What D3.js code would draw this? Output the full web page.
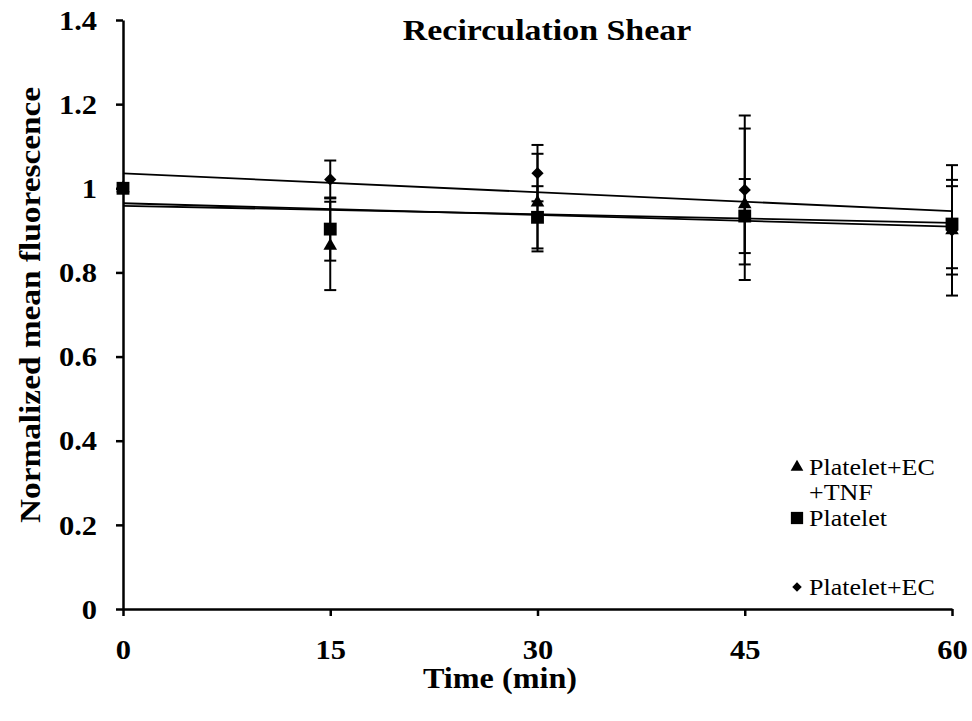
<!DOCTYPE html>
<html lang="en">
<head>
<meta charset="utf-8">
<title>Recirculation Shear</title>
<script src="https://cdn.jsdelivr.net/npm/d3@7"></script>
<style>
  body { margin: 0; background: #fff; }
  text { font-family: "Liberation Serif", "Times New Roman", serif; fill: #000; }
</style>
</head>
<body>
<div id="chart"></div>
<script>
// data
var times = [0, 15, 30, 45, 60];
var xTicks = [0, 15, 30, 45, 60];
var yTicks = [0, 0.2, 0.4, 0.6, 0.8, 1, 1.2, 1.4];

var tnfMean = [1, 0.863, 0.966, 0.962, 0.900];
var tnfErr = [0, 0.105, 0.116, 0.18, 0.105];
var plateletMean = [1, 0.903, 0.931, 0.934, 0.915];
var plateletErr = [0, 0.075, 0.074, 0.088, 0.105];
var ecMean = [1, 1.021, 1.036, 0.996, 0.900];
var ecErr = [0, 0.045, 0.067, 0.177, 0.155];

var seriesNames = ["Platelet+EC +TNF", "Platelet", "Platelet+EC"];

var W = 972, H = 721;
var sx = 1.13; // text in the original is drawn a bit wide

var svg = d3.select("#chart").append("svg")
    .attr("width", W)
    .attr("height", H);

var x = d3.scaleLinear().domain([0, 60]).range([123, 952]);
var y = d3.scaleLinear().domain([0, 1.4]).range([609, 20]);

function stretchedText(px, py, str, size, weight, anchor, rot) {
    return svg.append("g")
        .attr("transform", "translate(" + px + "," + py + ") rotate(" + (rot || 0) + ") scale(" + sx + ",1)")
        .append("text")
        .attr("text-anchor", anchor || "start")
        .style("font-size", size + "px")
        .style("font-weight", weight || "normal")
        .text(str);
}

// axes
var yAxis = svg.append("g")
    .attr("transform", "translate(" + x(0) + ",0)")
    .call(d3.axisLeft(y).tickValues(yTicks).tickSize(7).tickSizeOuter(0)
        .tickFormat(function(d) { return d3.format("~g")(d); }));
yAxis.selectAll("text")
    .attr("x", -26 / sx)
    .attr("dy", "0.34em")
    .attr("transform", "scale(" + sx + ",1)")
    .style("font-size", "27px")
    .style("font-weight", "bold")
    .style("font-family", "Liberation Serif, serif");

var xAxis = svg.append("g")
    .attr("transform", "translate(0," + y(0) + ")")
    .call(d3.axisBottom(x).tickValues(xTicks).tickSize(7).tickSizeOuter(0));
xAxis.selectAll("text")
    .attr("y", 50)
    .attr("dy", 0)
    .attr("transform", "scale(" + sx + ",1)")
    .style("font-size", "27px")
    .style("font-weight", "bold")
    .style("font-family", "Liberation Serif, serif");

svg.selectAll(".domain, .tick line")
    .attr("stroke", "#000")
    .attr("stroke-width", 2.5);

// titles
stretchedText(547, 40, "Recirculation Shear", 30, "bold", "middle");
stretchedText(500, 688, "Time (min)", 28.5, "bold", "middle");
stretchedText(40, 305, "Normalized mean fluorescence", 29.5, "bold", "middle", -90);

// series
var diamond = {
    draw: function(ctx, size) {
        var r = Math.sqrt(size / 2);
        ctx.moveTo(0, -r); ctx.lineTo(r, 0); ctx.lineTo(0, r); ctx.lineTo(-r, 0); ctx.closePath();
    }
};
var series = [
    { name: seriesNames[0], mean: tnfMean, err: tnfErr, sym: d3.symbolTriangle, size: 80 },
    { name: seriesNames[1], mean: plateletMean, err: plateletErr, sym: d3.symbolSquare, size: 165 },
    { name: seriesNames[2], mean: ecMean, err: ecErr, sym: diamond, size: 75 }
];

// linear trend lines (least squares)
function fit(xs, ys) {
    var mx = d3.mean(xs), my = d3.mean(ys);
    var num = d3.sum(xs, function(v, i) { return (v - mx) * (ys[i] - my); });
    var den = d3.sum(xs, function(v) { return (v - mx) * (v - mx); });
    var b = num / den;
    return { a: my - b * mx, b: b };
}

var plot = svg.append("g");

series.forEach(function(s) {
    var pts = times.map(function(t, i) { return { t: t, v: s.mean[i], e: s.err[i] }; });
    var bars = plot.append("g");
    pts.filter(function(p) { return p.e > 0; }).forEach(function(p) {
        bars.append("line")
            .attr("x1", x(p.t)).attr("x2", x(p.t))
            .attr("y1", y(p.v - p.e)).attr("y2", y(p.v + p.e))
            .attr("stroke", "#000").attr("stroke-width", 2);
        [p.v - p.e, p.v + p.e].forEach(function(c) {
            bars.append("line")
                .attr("x1", x(p.t) - 6).attr("x2", x(p.t) + 6)
                .attr("y1", y(c)).attr("y2", y(c))
                .attr("stroke", "#000").attr("stroke-width", 2);
        });
    });
});

series.forEach(function(s) {
    var f = fit(times, s.mean);
    plot.append("line")
        .attr("x1", x(0)).attr("y1", y(f.a))
        .attr("x2", x(60)).attr("y2", y(f.a + f.b * 60))
        .attr("stroke", "#000").attr("stroke-width", 1.8);
});

series.slice().reverse().forEach(function(s) {
    plot.selectAll(null)
        .data(times.map(function(t, i) { return { t: t, v: s.mean[i] }; }))
        .enter().append("path")
        .attr("d", d3.symbol().type(s.sym).size(s.size))
        .attr("transform", function(d) { return "translate(" + x(d.t) + "," + y(d.v) + ")"; })
        .attr("fill", "#000");
});

// legend
var legendRows = [
    { sym: d3.symbolTriangle, size: 70, cy: 467, lines: ["Platelet+EC", "+TNF"] },
    { sym: d3.symbolSquare, size: 150, cy: 518, lines: ["Platelet"] },
    { sym: diamond, size: 45, cy: 587, lines: ["Platelet+EC"] }
];
legendRows.forEach(function(r) {
    svg.append("path")
        .attr("d", d3.symbol().type(r.sym).size(r.size))
        .attr("transform", "translate(797," + r.cy + ")")
        .attr("fill", "#000");
    r.lines.forEach(function(l, i) {
        stretchedText(809, r.cy + 8 + i * 25, l, 23, "normal", "start");
    });
});
</script>
</body>
</html>
